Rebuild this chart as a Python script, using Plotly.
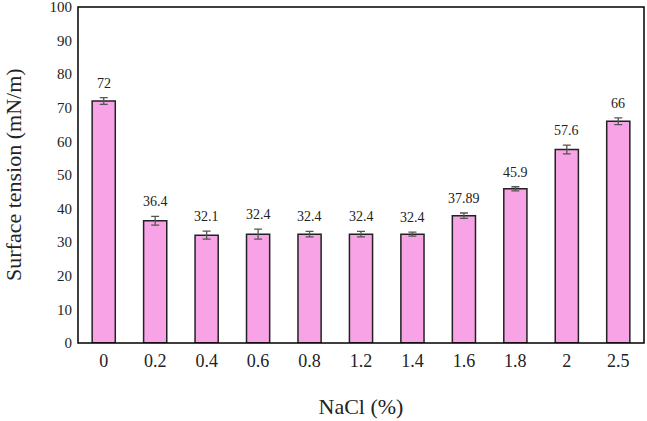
import plotly.graph_objects as go

categories = ["0", "0.2", "0.4", "0.6", "0.8", "1.2", "1.4", "1.6", "1.8", "2", "2.5"]
values = [72, 36.4, 32.1, 32.4, 32.4, 32.4, 32.4, 37.89, 45.9, 57.6, 66]
errors = [1.0, 1.3, 1.2, 1.5, 0.8, 0.8, 0.6, 0.8, 0.6, 1.3, 1.0]
labels = ["72", "36.4", "32.1", "32.4", "32.4", "32.4", "32.4", "37.89", "45.9", "57.6", "66"]
y_ticks = [0, 10, 20, 30, 40, 50, 60, 70, 80, 90, 100]

font_family = "Liberation Serif, Times New Roman, serif"

fig = go.Figure()
fig.add_trace(go.Bar(
    x=categories, y=values,
    width=0.45,
    marker=dict(color="#F7A3E6", line=dict(color="#222222", width=1.5)),
    error_y=dict(type="data", array=errors, visible=True, color="#555555", thickness=1.3, width=4),
    showlegend=False,
))

for i, (v, e, t) in enumerate(zip(values, errors, labels)):
    fig.add_annotation(x=i, y=v + e, text=t, showarrow=False, yanchor="bottom", yshift=5,
                       font=dict(family=font_family, size=14, color="#222222"))

# y-axis title as rotated annotation (placed near the left edge)
fig.add_annotation(xref="paper", yref="paper", x=0, y=0.5, xshift=-65, textangle=-90,
                   text="Surface tension (mN/m)", showarrow=False, xanchor="center", yanchor="middle",
                   font=dict(family=font_family, size=22, color="#222222"))

# frame around the plot area
fig.add_shape(type="rect", xref="paper", yref="paper", x0=0, y0=0, x1=1, y1=1,
              line=dict(color="black", width=1.5), layer="above")

fig.update_layout(
    width=647, height=421,
    margin=dict(l=78, r=3, t=7, b=78),
    plot_bgcolor="white", paper_bgcolor="white",
    font=dict(family=font_family, color="#222222"),
)
fig.update_xaxes(
    type="category", showline=False,
    ticks="", tickfont=dict(size=18, family=font_family), showgrid=False, automargin=False,
    ticklabelstandoff=5,
    title=dict(text="NaCl (%)", font=dict(size=22, family=font_family), standoff=28),
)
fig.update_yaxes(
    range=[0, 100], tickvals=y_ticks, showline=False,
    ticks="", tickfont=dict(size=15, family=font_family), showgrid=False, zeroline=False, automargin=False,
    ticklabeloverflow="allow", ticklabelstandoff=5,
)

fig.write_html("out.html", config={"displayModeBar": False},
               post_script="document.body.style.margin='0';document.body.style.overflow='hidden';document.documentElement.style.overflow='hidden';")
